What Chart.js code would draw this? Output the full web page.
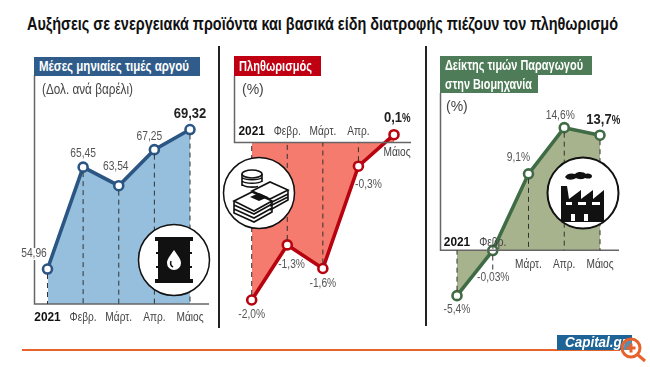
<!DOCTYPE html>
<html lang="el"><head><meta charset="utf-8">
<script src="https://cdn.jsdelivr.net/npm/chart.js@4"></script>
<style>
html,body{margin:0;padding:0;background:#fff;}
body{width:650px;height:367px;overflow:hidden;position:relative;font-family:"Liberation Sans",sans-serif;}
.a{position:absolute;white-space:nowrap;}
canvas{position:absolute;display:block;}
.hd{color:#fff;font-weight:bold;font-size:15px;line-height:18px;box-sizing:border-box;}
.hd span,.fit{display:inline-block;transform-origin:0 50%;}
.unit{color:#444;font-size:14px;line-height:14px;}
.vl{position:absolute;width:2px;background:#222;}
svg{position:absolute;}
</style></head><body>
<div class="a fit" data-w="591" style="left:27px;top:13px;font-size:19px;line-height:22px;font-weight:bold;color:#111;">Αυξήσεις σε ενεργειακά προϊόντα και βασικά είδη διατροφής πιέζουν τον πληθωρισμό</div>
<div class="vl" style="left:218px;top:46px;height:282px;"></div>
<div class="vl" style="left:425px;top:46px;height:280px;"></div>

<canvas id="c1"></canvas><canvas id="c2"></canvas><canvas id="c3"></canvas>

<div class="a hd" style="left:34px;top:57px;width:166px;height:19px;background:#2f5c8a;padding-left:5px;"><span class="fit" data-w="150">Μέσες μηνιαίες τιμές αργού</span></div>
<div class="a unit fit" data-w="91" style="left:42px;top:82px;">(Δολ. ανά βαρέλι)</div>
<div class="a hd" style="left:234px;top:56px;width:87px;height:20px;background:#c00012;line-height:20px;padding-left:5px;"><span class="fit" data-w="73">Πληθωρισμός</span></div>
<div class="a unit" style="left:242px;top:82px;">(%)</div>
<div class="a hd" style="left:440px;top:56px;width:152px;height:19px;background:#4f7c58;padding-left:5px;"><span class="fit" data-w="138">Δείκτης τιμών Παραγωγού</span></div>
<div class="a hd" style="left:440px;top:75px;width:98px;height:18px;background:#4f7c58;padding-left:5px;"><span class="fit" data-w="87">στην Βιομηχανία</span></div>
<div class="a unit" style="left:446px;top:99px;">(%)</div>

<svg style="left:137px;top:223px" width="74" height="74" viewBox="0 0 74 74">
<circle cx="37" cy="37" r="35.5" fill="#fff" stroke="#111" stroke-width="1.5"/>
<path fill="#111" d="M18 14h38v4h-3v11h2v2h-2v12h2v2h-2v11h3v4H18v-4h3V45h-2v-2h2V31h-2v-2h2V18h-3z"/>
<path fill="#fff" d="M37 27c4 6 7 9 7 13a7 7 0 0 1-14 0c0-4 3-7 7-13z"/>
<path fill="none" stroke="#111" stroke-width="1.5" d="M34 38c-1 3 0 5 2 6"/>
</svg>
<svg style="left:222px;top:156px" width="74" height="74" viewBox="0 0 74 74">
<circle cx="37" cy="37" r="35.5" fill="#fff" stroke="#111" stroke-width="1.5"/>
<g fill="none" stroke="#111" stroke-width="1.6">
<ellipse cx="30" cy="18" rx="10" ry="4"/>
<path d="M20 18v12M40 18v8M20 21.5c3 3 17 3 20 0M20 25c3 3 17 3 20 0M20 28.500c3 3 12 3 16 2"/>
<path d="M30 35l18-9 18 8-18 9zM66 34v10l-18 10M66 38l-18 9M66 41l-18 9"/>
<path d="M12 45l18-9 20 9-18 10zM12 45v12l20 9 18-10V45M12 49l20 9 18-10M12 53l20 9 18-10"/>
</g>
<path d="M28 41l9-4 9 4-9 4z" fill="#111"/>
</svg>
<svg style="left:546px;top:156px" width="74" height="74" viewBox="0 0 74 74">
<circle cx="37" cy="37" r="35.5" fill="#fff" stroke="#111" stroke-width="2"/>
<path fill="#111" d="M19 21c2-4 7-4 10-3 3-3 9-2 11 0 2-1 6 0 6 2 0 3-4 3-7 2-3 2-7 1-9 0-3 2-8 3-11-1z"/>
<path fill="#111" d="M15 30h6l2 13 12-9v9l12-9v9l11-9v32H15z"/>
<path fill="#fff" d="M20 46h6v3h-6zM32 46h8v3h-8zM46 46h8v3h-8z"/>
<path fill="#fff" d="M25 58h4v7h-4zM38 58h4v7h-4z"/>
</svg>

<div class="a" style="left:22px;top:349px;width:598px;height:2px;background:#e8622c;"></div>
<div class="a" style="left:557px;top:335px;width:75px;height:15px;background:#1f6496;color:#fff;font:italic bold 14px/14px 'Liberation Sans',sans-serif;padding-left:8px;box-sizing:border-box;"><span class="fit" data-w="62">Capital.gr</span></div>
<svg style="left:618px;top:335px" width="30" height="30" viewBox="0 0 30 30">
<circle cx="13" cy="13" r="9" fill="#fff" fill-opacity=".25" stroke="#e8622c" stroke-width="3"/>
<path stroke="#e8622c" stroke-width="3" fill="none" d="M8.500 13h9M13 8.500v9M20 20l7 6"/>
</svg>

<script>
const months = ['2021','Φεβρ.','Μάρτ.','Απρ.','Μάιος'];
const oilValues = [54.96,65.45,63.54,67.25,69.32];
const oilLabels = ['54,96','65,45','63,54','67,25','69,32'];
const cpiValues = [-2.0,-1.3,-1.6,-0.3,0.1];
const cpiLabels = ['-2,0%','-1,3%','-1,6%','-0,3%','0,1'];
const ppiValues = [-5.4,-0.03,9.1,14.6,13.7];
const ppiLabels = ['-5,4%','-0,03%','9,1%','14,6%','13,7'];

const SANS = '"Liberation Sans",sans-serif';

document.querySelectorAll('.fit').forEach(e=>{
  e.style.display='inline-block';
  const w=e.getBoundingClientRect().width, t=+e.dataset.w;
  e.style.transform='scaleX('+(t/w)+')';
});

function squeezed(c,text,x,y,sx,align){
  c.save(); c.translate(x,y); c.scale(sx,1); c.textAlign=align||'center'; c.fillText(text,0,0); c.restore();
}

const marks = {
  id:'marks',
  afterDatasetsDraw(chart,args,o){
    const c = chart.ctx, y = chart.scales.y, base = y.getPixelForValue(o.base);
    const pts = chart.getDatasetMeta(0).data;
    c.save();
    c.strokeStyle = '#666'; c.lineWidth = 1.5;
    c.beginPath(); c.moveTo(o.axisX+.5,0); c.lineTo(o.axisX+.5,base); c.lineTo(o.baseEnd,base); c.stroke();
    c.strokeStyle = '#333'; c.lineWidth = 1; c.setLineDash([5,4]);
    pts.forEach((p,i)=>{ if(o.noDrop===i) return;
      const end = o.dropEnd && o.dropEnd[i]!==undefined ? o.dropEnd[i] : base;
      c.beginPath(); c.moveTo(p.x,p.y+5*Math.sign(end-p.y)); c.lineTo(p.x,end); c.stroke(); });
    c.setLineDash([]);
    c.restore();
  },
  afterDraw(chart,args,o){
    const c = chart.ctx, y = chart.scales.y, x = chart.scales.x, base = y.getPixelForValue(o.base);
    const pts = chart.getDatasetMeta(0).data;
    c.save(); c.textBaseline='middle';
    pts.forEach((p,i)=>{
      const [dx,dy] = o.off[i];
      if(i===4){
        c.fillStyle='#222'; c.font='bold 15.5px '+SANS;
        const w=c.measureText(o.labels[i]).width*0.84;
        if(o.suffix){
          const s=8;
          squeezed(c,o.labels[i],p.x+dx-(w+s)/2,p.y+dy,0.84,'left');
          c.font='bold 12px '+SANS;
          squeezed(c,'%',p.x+dx-(w+s)/2+w,p.y+dy+1,0.8,'left');
        } else squeezed(c,o.labels[i],p.x+dx,p.y+dy,0.84);
      } else {
        c.font='12.5px '+SANS;
        if(o.halo===i){
          const w=c.measureText(o.labels[i]).width*0.82;
          c.fillStyle='#fff'; c.fillRect(p.x+dx-w/2,p.y+dy-6,w,12);
        }
        c.fillStyle='#555';
        squeezed(c,o.labels[i],p.x+dx,p.y+dy,0.82);
      }
    });
    months.forEach((m,i)=>{
      const tx = x.getPixelForValue(i)+(o.tickDx?o.tickDx[i]:0), ty = base+o.tickDy[i];
      c.fillStyle = i===0?'#111':'#444';
      c.font = i===0 ? 'bold 13.5px '+SANS : '13px '+SANS;
      squeezed(c,m,tx,ty,i===0?0.88:0.78);
    });
    c.restore();
  }
};

function panel(id,box,area,yMin,yMax,values,line,fillCol,fillTo,opts){
  const el = document.getElementById(id);
  el.width = box.w; el.height = box.h;
  el.style.left = box.l+'px'; el.style.top = box.t+'px';
  el.style.width = box.w+'px'; el.style.height = box.h+'px';
  return new Chart(el,{
    type:'line',
    data:{labels:months,datasets:[{
      data:values,borderColor:line,borderWidth:3.6,backgroundColor:fillCol,fill:fillTo,tension:0,clip:false,
      pointRadius:4.5,pointHoverRadius:4.5,pointBorderWidth:2.6,pointBackgroundColor:'#fff',pointBorderColor:line
    }]},
    options:{
      responsive:false,animation:false,events:[],
      layout:{padding:{left:area.l-box.l,right:box.l+box.w-area.r,top:area.t-box.t,bottom:box.t+box.h-area.b}},
      plugins:{legend:{display:false},tooltip:{enabled:false},title:{display:false},marks:opts},
      scales:{
        x:{type:'category',display:false,offset:false},
        y:{type:'linear',display:false,min:yMin,max:yMax}
      }
    },
    plugins:[marks]
  });
}

panel('c1',{l:20,t:75,w:197,h:255},{l:47.5,r:190,t:100,b:304},51.36,72.36,oilValues,'#2b5582','#95bfdc','start',{
  base:51.36,axisX:14,baseEnd:189,labels:oilLabels,halo:0,
  off:[[-13.5,-15],[0,-14],[-3,-19],[-5,-13],[0,-15.5]],tickDy:[13,13,13,13,13]
});
panel('c2',{l:221,t:76,w:203,h:252},{l:251.7,r:394,t:110,b:310},-2.127,0.414,cpiValues,'#b8020f','#f47b6d','origin',{
  base:0,axisX:13,baseEnd:190,labels:cpiLabels,suffix:true,noDrop:4,
  off:[[0,15],[4.3,20],[0,15],[10,18],[3,-17]],tickDy:[-11,-11,-11,-11,10],tickDx:[0,0,0,0,3]
});
panel('c3',{l:427,t:93,w:223,h:235},{l:457,r:600,t:110,b:310},-7.107,16.7,ppiValues,'#3f6b45','#a6b38c','origin',{
  base:0,axisX:13,baseEnd:192,labels:ppiLabels,suffix:true,dropEnd:{1:179},
  off:[[0,14],[0.500,27],[-10,-16],[-4,-12],[3,-15.500]],tickDy:[-8,-8,14,14,14]
});
</script>
</body></html>
